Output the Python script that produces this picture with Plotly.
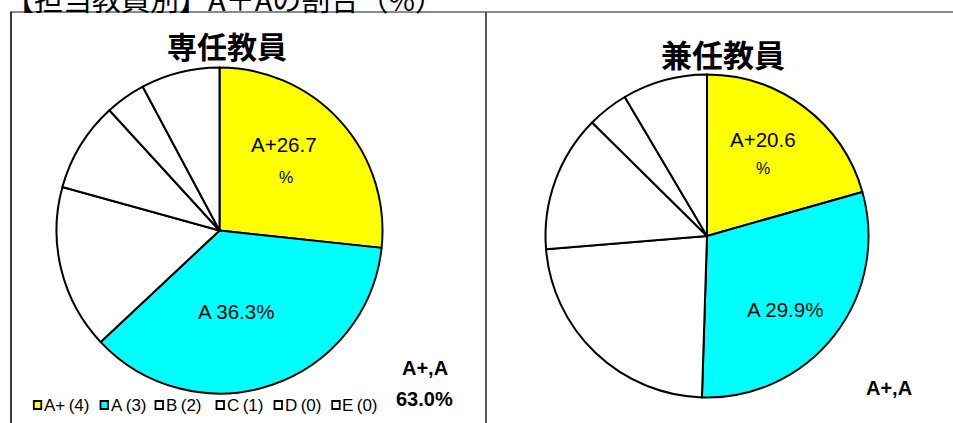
import plotly.graph_objects as go

W, H = 953, 423

# ---- data ----
categories = ["A+(4)", "A(3)", "B(2)", "C(1)", "D(0)", "E(0)"]
fulltime_values = [26.7, 36.3, 16.3, 8.9, 4.0, 7.8]
parttime_values = [20.6, 29.9, 23.2, 13.7, 4.1, 8.5]
slice_colors = ["#FFFF00", "#00FFFF", "#FFFFFF", "#FFFFFF", "#FFFFFF", "#FFFFFF"]
panel_titles = ["専任教員", "兼任教員"]
page_title = "【担当教員別】A＋Aの割合（%）"

JP = "Noto Sans CJK JP"
LAT = "Liberation Sans, Arial, Noto Sans CJK JP"
THIN = "\u2009"


def px(x):
    return x / W


def py(y):
    return 1 - y / H


def domain(cx, cy, r):
    return dict(x=[px(cx - r), px(cx + r)], y=[py(cy + r), py(cy - r)])


fig = go.Figure()
pies = [
    (fulltime_values, (219.5, 230.5, 163)),
    (parttime_values, (707, 236, 161.5)),
]
for vals, (cx, cy, r) in pies:
    fig.add_trace(go.Pie(
        labels=categories, values=vals, sort=False, direction="clockwise",
        rotation=0, textinfo="none", hoverinfo="label+percent",
        marker=dict(colors=slice_colors, line=dict(color="black", width=2)),
        domain=domain(cx, cy, r), showlegend=False,
    ))

ann = []


def add_text(text, x, y, size, family=LAT, weight="normal", xanchor="center", color="black"):
    ann.append(dict(text=text, x=px(x), y=py(y), xref="paper", yref="paper",
                    showarrow=False, xanchor=xanchor, yanchor="middle",
                    font=dict(size=size, family=family, color=color, weight=weight)))


# page title (cropped at top, as in the source)
add_text(page_title, 3, -2, 29, family=JP, xanchor="left")

# panel titles
add_text(panel_titles[0], 227, 45, 30, family=JP, weight="bold")
add_text(panel_titles[1], 722.5, 54, 31, family=JP, weight="bold")

# slice labels
label_pos = [
    ((284, 145), (285.5, 177), (235.5, 311.5)),
    ((762.5, 139.5), (763, 168), (785, 309.5)),
]
for vals, (p1, p2, p3) in zip([fulltime_values, parttime_values], label_pos):
    add_text(f"A+{vals[0]:.1f}", p1[0], p1[1], 20.5)
    add_text("%", p2[0], p2[1], 16)
    add_text(f"A {vals[1]:.1f}%", p3[0], p3[1], 20.5)

# A+,A summaries
add_text("A+,A", 425, 367.5, 20, weight="bold")
add_text(f"{fulltime_values[0] + fulltime_values[1]:.1f}%", 424.5, 398.5, 20, weight="bold")
add_text("A+,A", 889, 387.5, 20, weight="bold")

# custom legend
sq_left = [33.3, 100, 155, 216, 274, 331.7]
shapes = []
for lab, col, x0 in zip(categories, slice_colors, sq_left):
    shapes.append(dict(type="rect", xref="paper", yref="paper",
                       x0=px(x0 + 0.5), x1=px(x0 + 8), y0=py(409), y1=py(401),
                       fillcolor=col, line=dict(color="black", width=1.8)))
    shown = lab.replace("(", THIN + "(")
    add_text(shown, x0 + 8.5, 405, 17, xanchor="left")

# frame lines
shapes += [
    dict(type="line", xref="paper", yref="paper", x0=px(10), x1=px(953), y0=py(12), y1=py(12),
         line=dict(color="#8a8a8a", width=2)),
    dict(type="line", xref="paper", yref="paper", x0=px(11), x1=px(11), y0=py(12), y1=py(423),
         line=dict(color="black", width=1.5)),
    dict(type="line", xref="paper", yref="paper", x0=px(486), x1=px(486), y0=py(12), y1=py(423),
         line=dict(color="#555555", width=2)),
]

fig.update_layout(
    width=W, height=H, margin=dict(l=0, r=0, t=0, b=0),
    paper_bgcolor="white", plot_bgcolor="white",
    annotations=ann, shapes=shapes, showlegend=False,
)
fig.write_html(
    "out.html",
    config={"displayModeBar": False},
    post_script="document.body.style.margin='0';document.body.style.overflow='hidden';",
)
